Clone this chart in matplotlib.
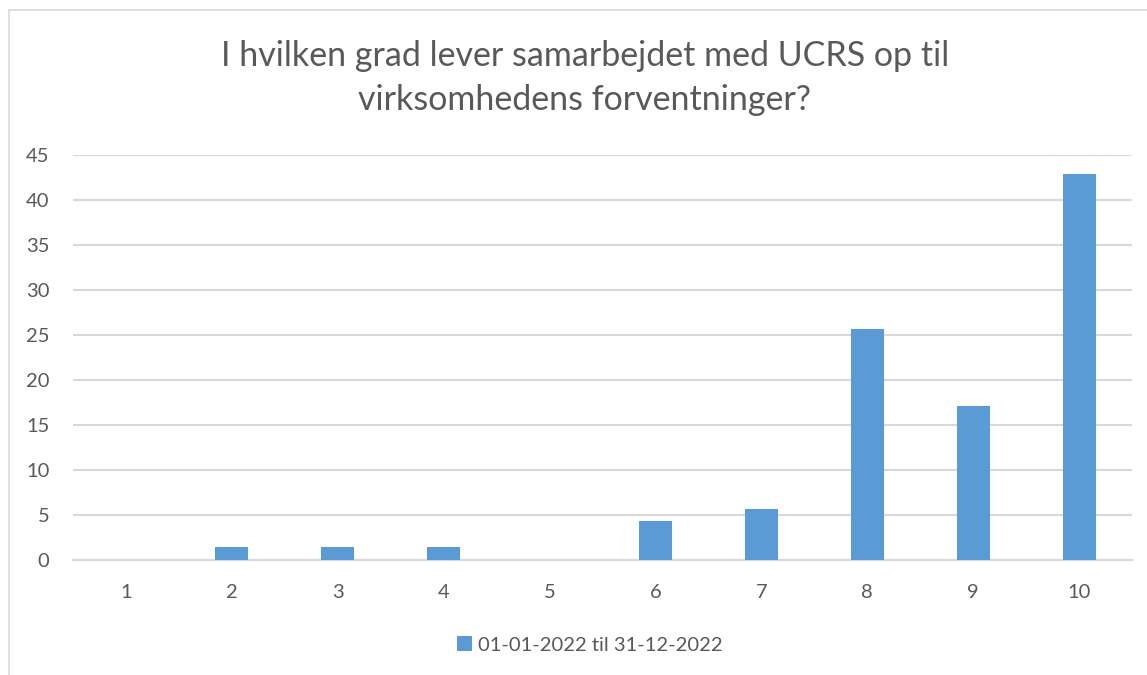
import numpy as np
import matplotlib
matplotlib.use('Agg')
import matplotlib.pyplot as plt
from matplotlib.patches import Rectangle

# --- Data ---
categories = ["1", "2", "3", "4", "5", "6", "7", "8", "9", "10"]
values = [0.0, 1.43, 1.43, 1.43, 0.0, 4.29, 5.71, 25.71, 17.14, 42.86]
series_name = "01-01-2022 til 31-12-2022"
title = "I hvilken grad lever samarbejdet med UCRS op til\nvirksomhedens forventninger?"

plt.rcParams['font.family'] = ['Lato', 'DejaVu Sans']
text_col = "#595959"
bar_col = "#5b9bd5"
grid_col = "#d9d9d9"

fig = plt.figure(figsize=(11.47, 6.75), dpi=100)
ax = fig.add_axes([0.0636, 0.1704, 0.9234, 0.6])

x = np.arange(len(categories))
ax.bar(x, values, width=0.31, color=bar_col, label=series_name, zorder=3)

ax.set_xlim(-0.5, len(categories) - 0.5)
ax.set_ylim(0, 45)
ax.set_yticks(np.arange(0, 46, 5))
ax.set_xticks(x)
ax.set_xticklabels(categories)
ax.yaxis.grid(True, color=grid_col, linewidth=1.5, zorder=0)
ax.set_axisbelow(True)
for s in ["top", "right", "left"]:
    ax.spines[s].set_visible(False)
ax.spines["bottom"].set_color(grid_col)
ax.spines["bottom"].set_linewidth(1.5)
ax.tick_params(axis="both", length=0, labelsize=14.5, colors=text_col)
ax.tick_params(axis="x", pad=17)
ax.tick_params(axis="y", pad=17)

fig.text(0.51, 0.884, title, ha="center", va="center", fontsize=24.5,
         color=text_col, linespacing=1.45)

ax.legend(loc="center", bbox_to_anchor=(0.488, -0.21),
          frameon=False, fontsize=14.5, labelcolor=text_col,
          handlelength=0.7, handleheight=0.7, handletextpad=0.3)

# outer chart frame (partly off-canvas like the source)
fig.patches.append(Rectangle((9 / 1147, -0.1), 1.2, 1 - 10 / 675 + 0.1,
                             transform=fig.transFigure, fill=False,
                             edgecolor=grid_col, linewidth=1.2))

fig.savefig("out.png", dpi=100)
